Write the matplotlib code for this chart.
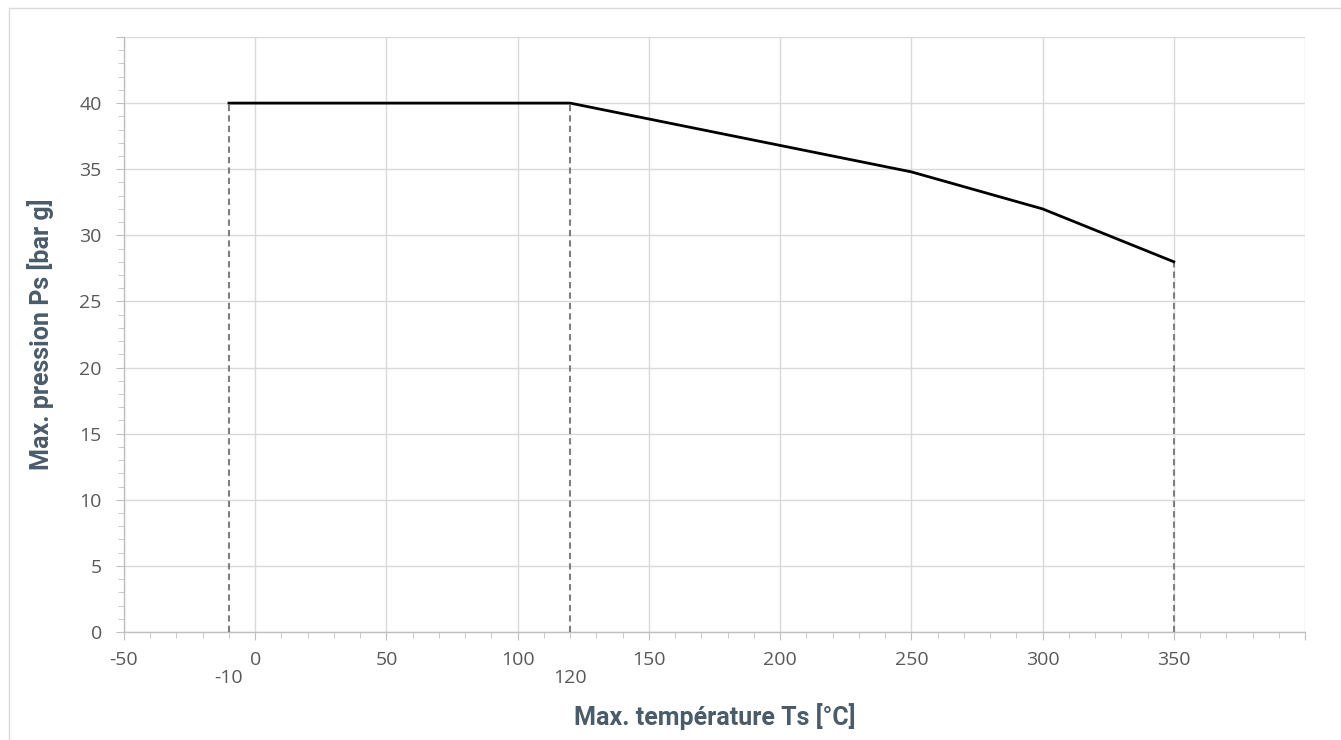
import matplotlib.pyplot as plt
from matplotlib.ticker import MultipleLocator
from matplotlib.lines import Line2D

# courbe pression / température
temp = [-10, 120, 150, 200, 250, 300, 350]
pression = [40, 40, 38.8, 36.8, 34.8, 32, 28]

# limites marquées en pointillé
limites_t = [-10, 120, 350]
limites_p = [40, 40, 28]

x_ticks = [-50, 0, 50, 100, 150, 200, 250, 300, 350]
y_ticks = [0, 5, 10, 15, 20, 25, 30, 35, 40]

tick_col = '#595959'
label_col = '#4A5B69'
grid_col = '#D9D9D9'
axis_col = '#BFBFBF'

fig = plt.figure(figsize=(13.41, 7.40), dpi=100)
# cadre du graphique (haut et gauche visibles)
fig.lines.append(Line2D([9 / 1341, 9 / 1341, 1], [0, 1 - 8 / 740, 1 - 8 / 740],
                        transform=fig.transFigure, color='#D9D9D9', linewidth=1))
ax = fig.add_axes([124 / 1341, 1 - 632 / 740, (1305 - 124) / 1341, (632 - 37) / 740])

ax.set_xlim(-50, 400)
ax.set_ylim(0, 45)

for t, p in zip(limites_t, limites_p):
    ax.plot([t, t], [0, p], color='#7F7F7F', linestyle=(0, (3, 2)), linewidth=1.5, zorder=3)

ax.plot(temp, pression, color='black', linewidth=2, zorder=4)

ax.set_xticks(x_ticks + [400])
ax.set_xticklabels([str(v) for v in x_ticks] + [''])
ax.set_yticks(y_ticks + [45])
ax.set_yticklabels([str(v) for v in y_ticks] + [''])
ax.xaxis.set_minor_locator(MultipleLocator(10))
ax.yaxis.set_minor_locator(MultipleLocator(1))

ax.grid(True, which='major', color=grid_col, linewidth=1)
ax.set_axisbelow(True)

for s in ['top', 'right']:
    ax.spines[s].set_visible(False)
for s in ['left', 'bottom']:
    ax.spines[s].set_color(axis_col)
    ax.spines[s].set_linewidth(1)

ax.tick_params(which='major', direction='out', length=6, color=axis_col, labelcolor=tick_col,
               labelsize=14, pad=8)
ax.tick_params(which='minor', direction='out', length=4, color=axis_col)
ax.tick_params(axis='y', which='major', pad=10)

# étiquettes supplémentaires décalées
for t in [-10, 120]:
    ax.text(t, -0.062, str(t), transform=ax.get_xaxis_transform(), ha='center', va='top',
            fontsize=14, color=tick_col, family=['Open Sans', 'DejaVu Sans'])

for lbl in ax.get_xticklabels() + ax.get_yticklabels():
    lbl.set_fontfamily(['Open Sans', 'DejaVu Sans'])

label_font = dict(fontsize=18, fontweight='bold', color=label_col,
                  family=['Roboto', 'DejaVu Sans'])
ax.set_xlabel('Max. température Ts [°C]', labelpad=24, **label_font)
ax.set_ylabel('Max. pression Ps [bar g]', labelpad=18, **label_font)

fig.savefig('out.png', dpi=100)
